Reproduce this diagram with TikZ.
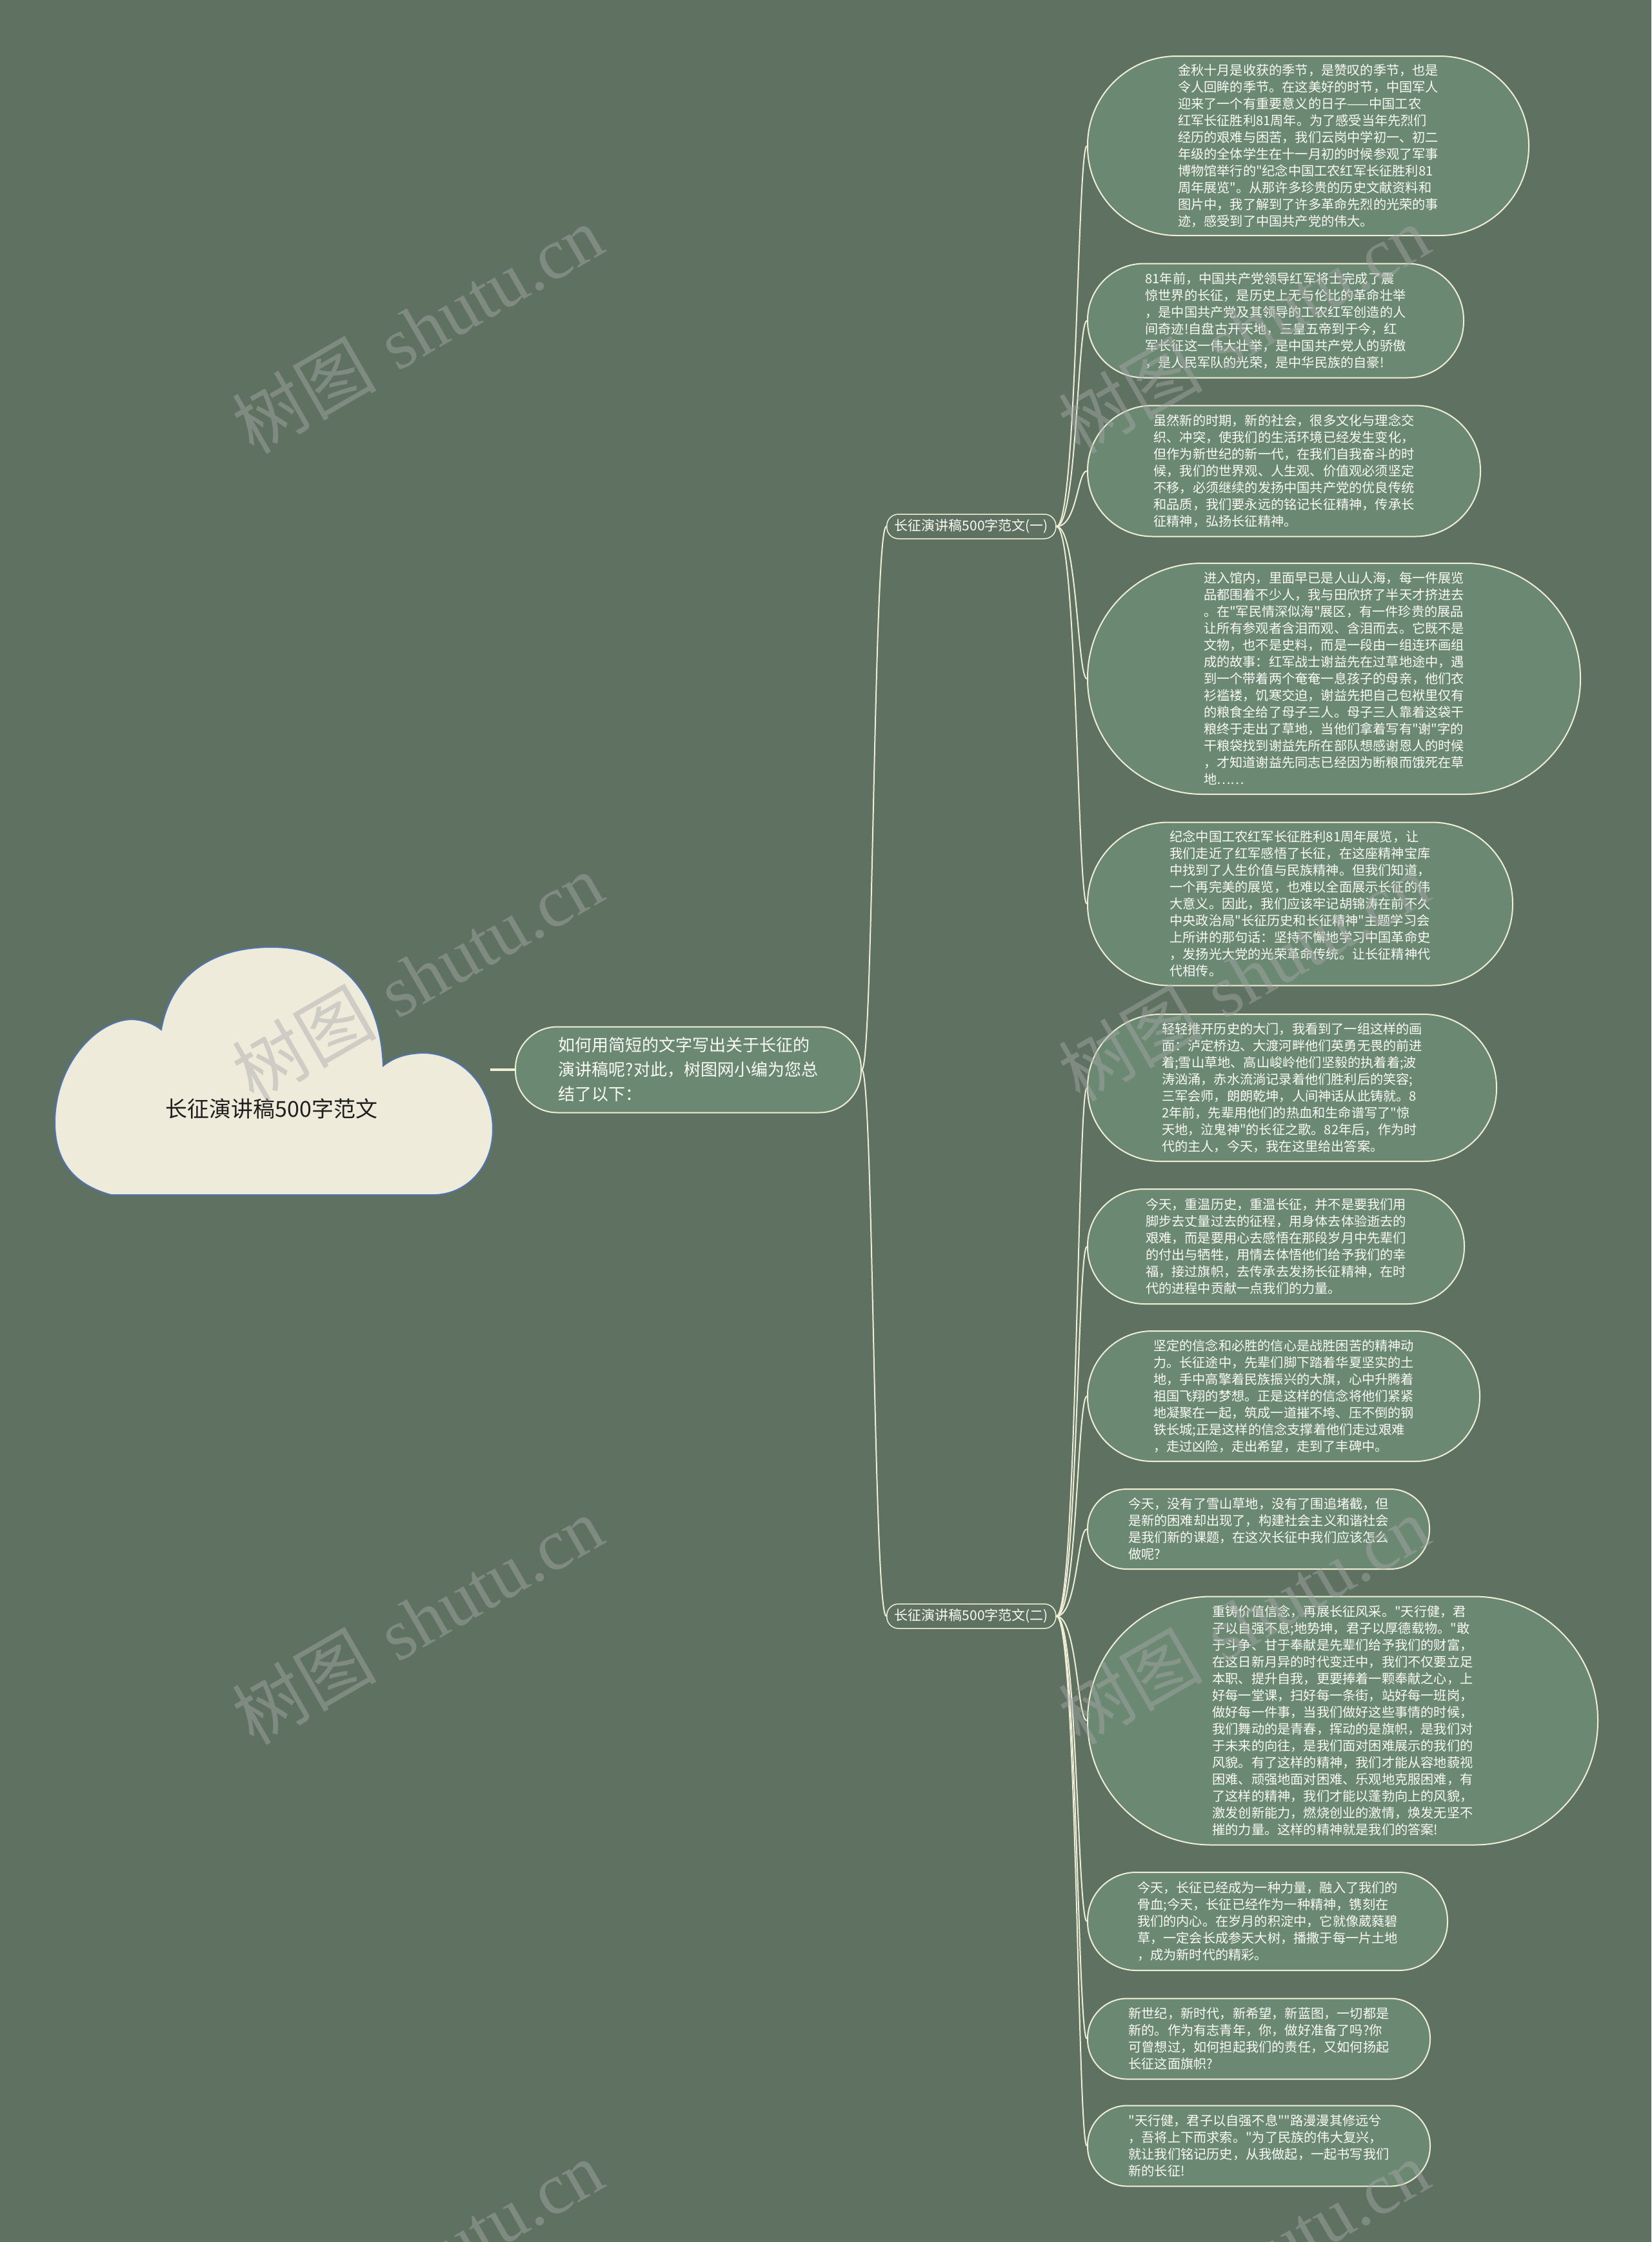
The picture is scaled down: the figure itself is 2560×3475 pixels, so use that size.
\documentclass[tikz,border=0pt]{standalone}
\usepackage{fontspec}
\newfontfamily\cjk{Noto Sans CJK SC}
\newfontfamily\wmserif{Liberation Serif}
\usetikzlibrary{calc}
\definecolor{bgc}{HTML}{5F7262}
\definecolor{leaff}{HTML}{6B8972}
\definecolor{linec}{HTML}{F0EDD7}
\definecolor{rootf}{HTML}{EFEBDB}
\definecolor{rootb}{HTML}{4F74B0}
\definecolor{leaftext}{HTML}{FAFAF5}
\definecolor{wmc}{HTML}{A8A8A8}
\begin{document}
\begin{tikzpicture}[x=1pt,y=-1pt,
  leaf/.style={rectangle, draw=linec, line width=2pt, fill=leaff, text=leaftext,
    inner sep=0pt, align=left, anchor=west,
    minimum height=#1, minimum width=#1+406, rounded corners=#1/2-1,
    font=\cjk\fontsize{20.2}{26}\selectfont},
  branchbox/.style={rectangle, draw=linec, line width=1.5pt, fill=bgc, text=leaftext,
    inner xsep=12pt, inner ysep=0pt, minimum height=38pt, rounded corners=18pt, anchor=west,
    font=\cjk\fontsize{21}{24}\selectfont},
  centerbox/.style={rectangle, draw=linec, line width=2pt, fill=leaff, text=leaftext,
    inner sep=0pt, align=left, anchor=west, minimum height=133pt, minimum width=536pt,
    rounded corners=65pt, font=\cjk\fontsize{26}{38}\selectfont},
  conn/.style={draw=linec, line width=2pt},
  wm/.style={text=wmc, text opacity=0.45, rotate=30, font=\fontsize{112}{112}\selectfont}
]
\fill[bgc] (0,0) rectangle (2560,3475);
\useasboundingbox (0,0) rectangle (2560,3475);

% root cloud
\draw[fill=rootf, draw=rootb, line width=2pt]
  (172,1852) .. controls (110,1835) and (85,1795) .. (85,1740)
  .. controls (85,1650) and (150,1580) .. (205,1580)
  .. controls (225,1581) and (240,1588) .. (250,1596)
  .. controls (265,1510) and (330,1468) .. (421,1468)
  .. controls (530,1468) and (590,1540) .. (594,1652)
  .. controls (612,1638) and (632,1632) .. (660,1632)
  .. controls (722,1636) and (764,1690) .. (764,1750)
  .. controls (764,1810) and (722,1852) .. (672,1852)
  -- cycle;
\node[font=\cjk\fontsize{34}{40}\selectfont, text=black!88] (root) at (421,1718) {长征演讲稿500字范文};
\coordinate (rootR) at (760,1658);

% center node
\node[centerbox] (center) at (798,1658) {如何用简短的文字写出关于长征的\\演讲稿呢?对此，树图网小编为您总\\结了以下：};

% branch nodes
\node[branchbox] (b1) at (1374,816) {长征演讲稿500字范文(一)};
\node[branchbox] (b2) at (1374,2505) {长征演讲稿500字范文(二)};

% leaves of branch 1
\node[leaf=278] (l1) at (1685,226) {金秋十月是收获的季节，是赞叹的季节，也是\\令人回眸的季节。在这美好的时节，中国军人\\迎来了一个有重要意义的日子——中国工农\\红军长征胜利81周年。为了感受当年先烈们\\经历的艰难与困苦，我们云岗中学初一、初二\\年级的全体学生在十一月初的时候参观了军事\\博物馆举行的"纪念中国工农红军长征胜利81\\周年展览"。从那许多珍贵的历史文献资料和\\图片中，我了解到了许多革命先烈的光荣的事\\迹，感受到了中国共产党的伟大。};
\node[leaf=177] (l2) at (1685,497) {81年前，中国共产党领导红军将士完成了震\\惊世界的长征，是历史上无与伦比的革命壮举\\，是中国共产党及其领导的工农红军创造的人\\间奇迹!自盘古开天地，三皇五帝到于今，红\\军长征这一伟大壮举，是中国共产党人的骄傲\\，是人民军队的光荣，是中华民族的自豪!};
\node[leaf=203] (l3) at (1685,730) {虽然新的时期，新的社会，很多文化与理念交\\织、冲突，使我们的生活环境已经发生变化，\\但作为新世纪的新一代，在我们自我奋斗的时\\候，我们的世界观、人生观、价值观必须坚定\\不移，必须继续的发扬中国共产党的优良传统\\和品质，我们要永远的铭记长征精神，传承长\\征精神，弘扬长征精神。};
\node[leaf=358] (l4) at (1685,1052) {进入馆内，里面早已是人山人海，每一件展览\\品都围着不少人，我与田欣挤了半天才挤进去\\。在"军民情深似海"展区，有一件珍贵的展品\\让所有参观者含泪而观、含泪而去。它既不是\\文物，也不是史料，而是一段由一组连环画组\\成的故事：红军战士谢益先在过草地途中，遇\\到一个带着两个奄奄一息孩子的母亲，他们衣\\衫褴褛，饥寒交迫，谢益先把自己包袱里仅有\\的粮食全给了母子三人。母子三人靠着这袋干\\粮终于走出了草地，当他们拿着写有"谢"字的\\干粮袋找到谢益先所在部队想感谢恩人的时候\\，才知道谢益先同志已经因为断粮而饿死在草\\地……};
\node[leaf=253] (l5) at (1685,1401) {纪念中国工农红军长征胜利81周年展览，让\\我们走近了红军感悟了长征，在这座精神宝库\\中找到了人生价值与民族精神。但我们知道，\\一个再完美的展览，也难以全面展示长征的伟\\大意义。因此，我们应该牢记胡锦涛在前不久\\中央政治局"长征历史和长征精神"主题学习会\\上所讲的那句话：坚持不懈地学习中国革命史\\，发扬光大党的光荣革命传统。让长征精神代\\代相传。};

% leaves of branch 2
\node[leaf=228] (l6) at (1685,1686) {轻轻推开历史的大门，我看到了一组这样的画\\面：泸定桥边、大渡河畔他们英勇无畏的前进\\着;雪山草地、高山峻岭他们坚毅的执着着;波\\涛汹涌，赤水流淌记录着他们胜利后的笑容;\\三军会师，朗朗乾坤，人间神话从此铸就。8\\2年前，先辈用他们的热血和生命谱写了"惊\\天地，泣鬼神"的长征之歌。82年后，作为时\\代的主人，今天，我在这里给出答案。};
\node[leaf=178] (l7) at (1685,1932) {今天，重温历史，重温长征，并不是要我们用\\脚步去丈量过去的征程，用身体去体验逝去的\\艰难，而是要用心去感悟在那段岁月中先辈们\\的付出与牺牲，用情去体悟他们给予我们的幸\\福，接过旗帜，去传承去发扬长征精神，在时\\代的进程中贡献一点我们的力量。};
\node[leaf=202] (l8) at (1685,2164) {坚定的信念和必胜的信心是战胜困苦的精神动\\力。长征途中，先辈们脚下踏着华夏坚实的土\\地，手中高擎着民族振兴的大旗，心中升腾着\\祖国飞翔的梦想。正是这样的信念将他们紧紧\\地凝聚在一起，筑成一道摧不垮、压不倒的钢\\铁长城;正是这样的信念支撑着他们走过艰难\\，走过凶险，走出希望，走到了丰碑中。};
\node[leaf=124] (l9) at (1685,2370) {今天，没有了雪山草地，没有了围追堵截，但\\是新的困难却出现了，构建社会主义和谐社会\\是我们新的课题，在这次长征中我们应该怎么\\做呢?};
\node[leaf=385] (l10) at (1685,2667) {重铸价值信念，再展长征风采。"天行健，君\\子以自强不息;地势坤，君子以厚德载物。"敢\\于斗争、甘于奉献是先辈们给予我们的财富，\\在这日新月异的时代变迁中，我们不仅要立足\\本职、提升自我，更要捧着一颗奉献之心，上\\好每一堂课，扫好每一条街，站好每一班岗，\\做好每一件事，当我们做好这些事情的时候，\\我们舞动的是青春，挥动的是旗帜，是我们对\\于未来的向往，是我们面对困难展示的我们的\\风貌。有了这样的精神，我们才能从容地藐视\\困难、顽强地面对困难、乐观地克服困难，有\\了这样的精神，我们才能以蓬勃向上的风貌，\\激发创新能力，燃烧创业的激情，焕发无坚不\\摧的力量。这样的精神就是我们的答案!};
\node[leaf=152] (l11) at (1685,2978) {今天，长征已经成为一种力量，融入了我们的\\骨血;今天，长征已经作为一种精神，镌刻在\\我们的内心。在岁月的积淀中，它就像葳蕤碧\\草，一定会长成参天大树，播撒于每一片土地\\，成为新时代的精彩。};
\node[leaf=125] (l12) at (1685,3160) {新世纪，新时代，新希望，新蓝图，一切都是\\新的。作为有志青年，你，做好准备了吗?你\\可曾想过，如何担起我们的责任，又如何扬起\\长征这面旗帜?};
\node[leaf=125] (l13) at (1685,3326) {"天行健，君子以自强不息""路漫漫其修远兮\\，吾将上下而求索。"为了民族的伟大复兴，\\就让我们铭记历史，从我做起，一起书写我们\\新的长征!};

% connectors
\draw[draw=linec, line width=4pt] (rootR) -- (center.west);
\coordinate (mC) at (1354,0);
\coordinate (mL) at (1670,0);
\foreach \b in {b1,b2}
  \draw[conn] (center.east) .. controls (center.east -| mC) and (\b.west -| mC) .. (\b.west);
\foreach \l in {l1,l2,l3,l4,l5}
  \draw[conn] (b1.east) .. controls (b1.east -| mL) and (\l.west -| mL) .. (\l.west);
\foreach \l in {l6,l7,l8,l9,l10,l11,l12,l13}
  \draw[conn] (b2.east) .. controls (b2.east -| mL) and (\l.west -| mL) .. (\l.west);

% watermarks
\foreach \wx/\wy [count=\i] in {647/510, 647/1514, 647/2511, 647/3509, 1928/510, 1928/1514, 1928/2511, 1928/3509}
  \node[wm] (wm\i) at (\wx,\wy) {{\cjk 树图} {\wmserif shutu.cn}};
\end{tikzpicture}
\end{document}
